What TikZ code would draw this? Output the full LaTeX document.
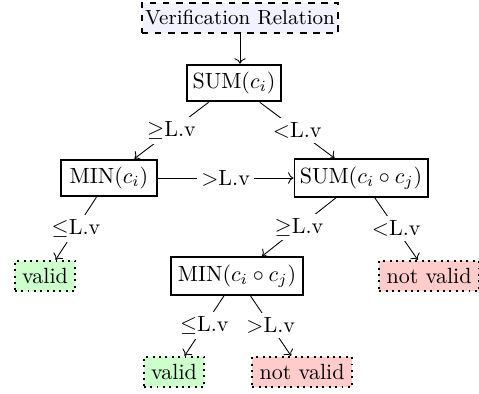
\documentclass[tikz,border=0pt]{standalone}
\usetikzlibrary{arrows.meta}
\begin{document}
\begin{tikzpicture}[x=0.4545pt,y=-0.4545pt,
  mainbox/.style={draw,line width=0.9pt,fill=white},
  sumbox/.style={mainbox,inner xsep=2.4pt},
  minbox/.style={mainbox,inner xsep=3.8pt},
  topbox/.style={draw,line width=0.9pt,dashed,fill=blue!5,
    font=\fontsize{9.3}{11}\selectfont,inner xsep=1.6pt,inner ysep=3.5pt},
  okbox/.style={draw,line width=0.9pt,dotted,fill=green!20},
  badbox/.style={draw,line width=0.9pt,dotted,fill=red!20},
  lab/.style={fill=white,inner sep=2pt},
  conn/.style={->}]
\useasboundingbox (0,0) rectangle (479,394);
\node[topbox] (ver) at (240,18) {Verification Relation};
\node[sumbox] (sum) at (234,83) {SUM$(c_i)$};
\node[minbox] (min) at (109,178) {MIN$(c_i)$};
\node[sumbox] (sum2) at (361,178) {SUM$(c_i\circ c_j)$};
\node[okbox] (v1) at (45,276) {valid};
\node[mainbox] (min2) at (237,276) {MIN$(c_i\circ c_j)$};
\node[badbox] (nv1) at (429,276) {not valid};
\node[okbox] (v2) at (174,372) {valid};
\node[badbox] (nv2) at (302,372) {not valid};
\draw[conn] (ver) -- (ver.south |- sum.north);
\draw[conn] (sum) -- node[lab]{$\geq$L.v} (min);
\draw[conn] (sum) -- node[lab]{$<$L.v} (sum2);
\draw[conn] (min) -- node[lab]{$>$L.v} (sum2);
\draw[conn] (min) -- node[lab]{$\leq$L.v} (v1);
\draw[conn] (sum2) -- node[lab]{$\geq$L.v} (min2);
\draw[conn] (sum2) -- node[lab]{$<$L.v} (nv1);
\draw[conn] (min2) -- node[lab]{$\leq$L.v} (v2);
\draw[conn] (min2) -- node[lab]{$>$L.v} (nv2);
\end{tikzpicture}
\end{document}
